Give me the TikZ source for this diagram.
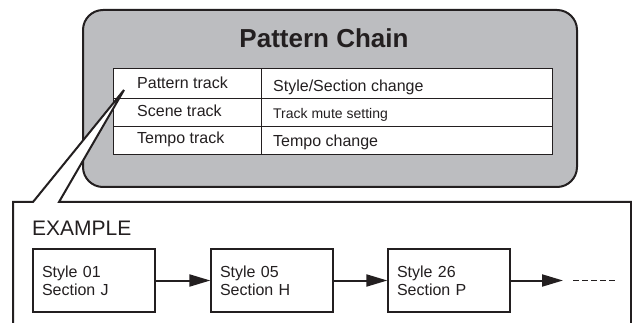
\documentclass[tikz,border=0pt]{standalone}
\usepackage{fontspec}
\setmainfont{Liberation Sans}
\usetikzlibrary{arrows.meta}
\definecolor{panelgray}{HTML}{BCBDC0}
\definecolor{ink}{HTML}{231F20}
\tikzset{
  panel/.style={draw=ink, line width=2pt, fill=panelgray, rounded corners=20pt},
  tablebox/.style={draw=ink, line width=1pt, fill=white},
  rule/.style={draw=ink, line width=1pt},
  celltext/.style={anchor=base west, inner sep=0pt, font=\fontsize{16pt}{18pt}\selectfont, text=ink},
  stepbox/.style={draw=ink, line width=1.3pt, fill=white, minimum width=122pt, minimum height=63pt,
     inner sep=0pt, text width=104pt, align=left, font=\fontsize{16pt}{18pt}\selectfont, text=ink},
  flow/.style={draw=ink, line width=2pt, -{Triangle[length=21pt,width=12pt]}},
  callout/.style={draw=ink, line width=2pt, line join=miter},
}
\begin{document}
\begin{tikzpicture}[x=1pt,y=-1pt]
\useasboundingbox (0,0) rectangle (632,323);
% panel
\path[panel] (83,10) rectangle (577,187);
\node[anchor=base, inner sep=0pt, font=\fontsize{26pt}{30pt}\selectfont\bfseries, text=ink] (title) at (324,48) {Pattern Chain};
% table
\path[tablebox] (113,69) rectangle (552,155);
\draw[rule] (113,99) -- (552,99);
\draw[rule] (113,127) -- (552,127);
\draw[rule] (261,69) -- (261,155);
\node[celltext] (r1a) at (137,89) {Pattern track};
\node[celltext] (r2a) at (137,117) {Scene track};
\node[celltext] (r3a) at (137,144) {Tempo track};
\node[celltext] (r1b) at (273,92) {Style/Section change};
\node[celltext, font=\fontsize{14pt}{16pt}\selectfont] (r2b) at (273,119) {Track mute setting};
\node[celltext] (r3b) at (273,147) {Tempo change};
% callout
\coordinate (tip) at (124,90);
\coordinate (gl) at (33,202);
\coordinate (gr) at (59,202);
\fill[white] (gl) -- (tip) -- (gr) -- cycle;
\draw[callout] (13,330) -- (13,202) -- (gl) -- (tip) -- (gr) -- (631,202) -- (631,330);
\node[anchor=base west, inner sep=0pt, font=\fontsize{21pt}{24pt}\selectfont, text=ink] (ex) at (32,236) {EXAMPLE};
% chain
\node[stepbox] (s1) at (94,280.5) {Style 01\\Section J};
\node[stepbox] (s2) at (272,280.5) {Style 05\\Section H};
\node[stepbox] (s3) at (449,280.5) {Style 26\\Section P};
\coordinate (aend) at (563,280.5);
\coordinate (dstart) at (573,280.5);
\coordinate (dend) at (615,280.5);
\draw[flow] (s1) -- (s2);
\draw[flow] (s2) -- (s3);
\draw[flow] (s3.east) -- (aend);
\draw[ink, line width=1pt, dash pattern=on 6pt off 3pt] (dstart) -- (dend);
\end{tikzpicture}
\end{document}
